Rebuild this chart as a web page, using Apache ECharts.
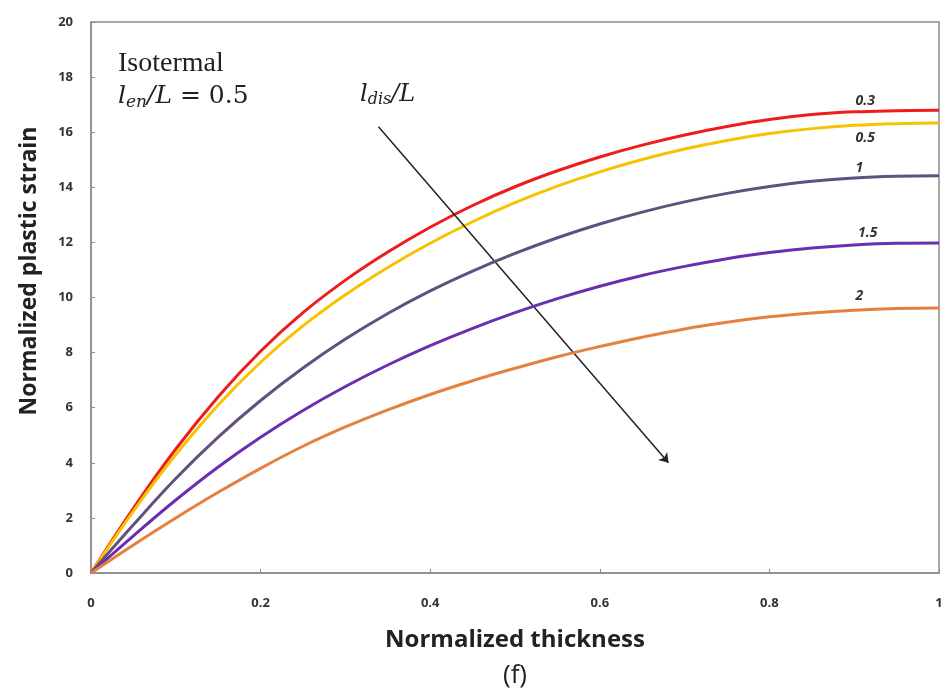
<!DOCTYPE html>
<html>
<head>
<meta charset="utf-8">
<script src="https://cdn.jsdelivr.net/npm/echarts@6/dist/echarts.min.js"></script>
<style>
  html, body { margin: 0; padding: 0; background: #fff; }
  #chart { width: 947px; height: 698px; }
</style>
</head>
<body>
<div id="chart"></div>
<script>
// normalized thickness samples
const thickness = [0, 0.05, 0.1, 0.15, 0.2, 0.25, 0.3, 0.35, 0.4, 0.45, 0.5,
  0.55, 0.6, 0.65, 0.7, 0.75, 0.8, 0.85, 0.9, 0.95, 1];

// normalized plastic strain, one array per l_dis/L
const strain03 = [0, 2.35, 4.5, 6.4, 8.05, 9.45, 10.63, 11.65, 12.55, 13.34, 14.02,
  14.6, 15.1, 15.53, 15.9, 16.21, 16.46, 16.64, 16.74, 16.78, 16.8];
const strain05 = [0, 2.25, 4.3, 6.1, 7.65, 8.97, 10.1, 11.09, 11.97, 12.75, 13.44,
  14.04, 14.56, 15.01, 15.39, 15.7, 15.95, 16.13, 16.25, 16.31, 16.33];
const strain1 = [0, 1.75, 3.43, 4.93, 6.26, 7.44, 8.49, 9.42, 10.24, 10.96, 11.6,
  12.17, 12.67, 13.1, 13.47, 13.78, 14.03, 14.22, 14.34, 14.4, 14.42];
const strain15 = [0, 1.35, 2.65, 3.85, 4.93, 5.9, 6.77, 7.55, 8.25, 8.88, 9.45,
  9.96, 10.41, 10.8, 11.13, 11.41, 11.63, 11.8, 11.91, 11.97, 11.98];
const strain2 = [0, 1.02, 2.0, 2.93, 3.8, 4.6, 5.3, 5.92, 6.48, 6.98, 7.43,
  7.85, 8.22, 8.56, 8.86, 9.1, 9.3, 9.44, 9.54, 9.6, 9.62];

const curveNames = ['0.3', '0.5', '1', '1.5', '2'];
const curveData = [strain03, strain05, strain1, strain15, strain2];
const curveColors = ['#ee1c1c', '#f7c200', '#62507f', '#6a2fb0', '#e5803f'];

const yTicks = [0, 2, 4, 6, 8, 10, 12, 14, 16, 18, 20];
const xTicks = [0, 0.2, 0.4, 0.6, 0.8, 1];

const pairs = (ys) => thickness.map((x, i) => [x, ys[i]]);

const chart = echarts.init(document.getElementById('chart'));

const axisGray = '#8c8c8c';
const labelFont = "'Open Sans', sans-serif";

const series = curveData.map((ys, i) => ({
  name: curveNames[i],
  type: 'line',
  data: pairs(ys),
  smooth: 0.4,
  showSymbol: false,
  lineStyle: { color: curveColors[i], width: 3 },
  z: 3 + i
}));

// arrow across the curves
series.push({
  type: 'line',
  data: [],
  markLine: {
    silent: true,
    symbol: ['none', 'arrow'],
    symbolSize: 9,
    lineStyle: { color: '#222', width: 1.5, type: 'solid' },
    label: { show: false },
    data: [[{ coord: [0.339, 16.2] }, { coord: [0.681, 4.0] }]]
  }
});

chart.setOption({
  animation: false,
  backgroundColor: '#fff',
  grid: {
    left: 91, right: 8, top: 22, bottom: 125,
    show: true, borderColor: axisGray, borderWidth: 1.5
  },
  xAxis: {
    type: 'value',
    min: 0, max: 1, interval: 0.2,
    axisLine: { lineStyle: { color: axisGray, width: 1.5 } },
    axisTick: { inside: true, length: 4, lineStyle: { color: axisGray } },
    splitLine: { show: false },
    axisLabel: {
      margin: 24,
      color: '#333', fontWeight: 'bold', fontSize: 13, fontFamily: labelFont,
      formatter: (v) => String(xTicks.find((t) => Math.abs(t - v) < 1e-9) ?? v)
    }
  },
  yAxis: {
    type: 'value',
    min: 0, max: 20, interval: 2,
    axisLine: { show: true, lineStyle: { color: axisGray, width: 1.5 } },
    axisTick: { show: true, inside: true, length: 4, lineStyle: { color: axisGray } },
    splitLine: { show: false },
    axisLabel: {
      margin: 18,
      color: '#333', fontWeight: 'bold', fontSize: 13, fontFamily: labelFont,
      formatter: (v) => String(yTicks.find((t) => t === v) ?? v)
    }
  },
  series: series
});

// curve labels and annotation text placed in data space
const labelAt = [[0.913, 17.15], [0.913, 15.8], [0.906, 14.7], [0.916, 12.35], [0.906, 10.05]];
const curveLabels = curveNames.map((n, i) => {
  const p = chart.convertToPixel({ gridIndex: 0 }, labelAt[i]);
  return {
    type: 'text', x: p[0], y: p[1], z: 20,
    style: {
      text: n, fill: '#333', font: "italic bold 14px 'Open Sans', sans-serif",
      align: 'center', verticalAlign: 'middle'
    }
  };
});

const serif = "'Liberation Serif', 'DejaVu Serif', serif";
const mathFont = "'DejaVu Serif', 'Liberation Serif', serif";
chart.setOption({
  graphic: curveLabels.concat([
    {
      type: 'text', left: 118, top: 50, z: 20,
      style: { text: 'Isotermal', fill: '#222', font: '28px ' + serif }
    },
    {
      type: 'text', left: 118, top: 82, z: 20,
      style: {
        text: '{i|l}{s|en}{i|/L}{n| = 0.5}',
        fill: '#222',
        rich: {
          i: { fontFamily: mathFont, fontStyle: 'italic', fontSize: 25, lineHeight: 32, verticalAlign: 'middle' },
          s: { fontFamily: mathFont, fontStyle: 'italic', fontSize: 17, lineHeight: 32, padding: [12, 0, 0, 0], verticalAlign: 'middle' },
          n: { fontFamily: mathFont, fontSize: 25, lineHeight: 32, verticalAlign: 'middle' }
        }
      }
    },
    {
      type: 'text', left: 360, top: 81, z: 20,
      style: {
        text: '{i|l}{s|dis}{i|/L}',
        fill: '#222',
        rich: {
          i: { fontFamily: mathFont, fontStyle: 'italic', fontSize: 24, lineHeight: 30, verticalAlign: 'middle' },
          s: { fontFamily: mathFont, fontStyle: 'italic', fontSize: 16, lineHeight: 30, padding: [11, 0, 0, 0], verticalAlign: 'middle' }
        }
      }
    },
    {
      type: 'text', x: 29, y: 271, rotation: Math.PI / 2, z: 20,
      style: {
        text: 'Normalized plastic strain', fill: '#222',
        font: "bold 23px " + labelFont, align: 'center', verticalAlign: 'middle'
      }
    },
    {
      type: 'text', x: 515, y: 640, z: 20,
      style: {
        text: 'Normalized thickness', fill: '#222',
        font: "bold 24px " + labelFont, align: 'center', verticalAlign: 'middle'
      }
    },
    {
      type: 'text', x: 515, y: 676, z: 20,
      style: {
        text: '(f)', fill: '#222',
        font: "26px " + labelFont, align: 'center', verticalAlign: 'middle'
      }
    }
  ])
});
</script>
</body>
</html>
